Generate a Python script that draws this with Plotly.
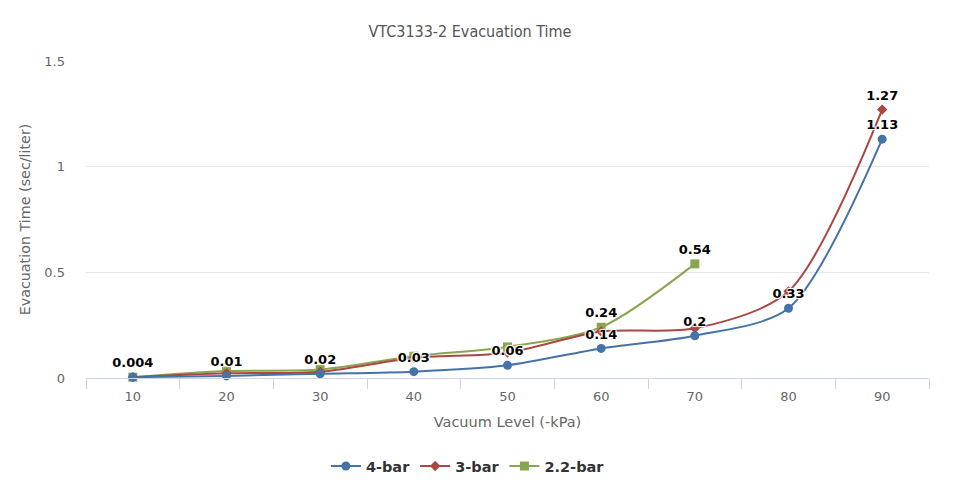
import plotly.graph_objects as go

categories = ["10", "20", "30", "40", "50", "60", "70", "80", "90"]
bar4 = [0.004, 0.01, 0.02, 0.03, 0.06, 0.14, 0.2, 0.33, 1.13]
bar3 = [0.004, 0.022, 0.03, 0.095, 0.12, 0.22, 0.235, 0.41, 1.27]
bar22 = [0.004, 0.033, 0.04, 0.103, 0.147, 0.24, 0.54, None, None]

# which values have visible labels
lab4 = ["0.004", "0.01", "0.02", "0.03", "0.06", "0.14", "0.2", "0.33", "1.13"]
lab3 = ["", "", "", "", "", "", "", "", "1.27"]
lab22 = ["", "", "", "", "", "0.24", "0.54", "", ""]

font = "DejaVu Sans"
lblfont = dict(family=font, size=13, color="#000000", weight="bold",
               shadow="1px 1px 1px white, -1px -1px 1px white, 1px -1px 1px white, -1px 1px 1px white")

fig = go.Figure()
fig.add_trace(go.Scatter(x=categories, y=bar22, name="2.2-bar", mode="lines+markers+text",
                         line=dict(color="#89A54E", width=2, shape="spline", smoothing=0.8),
                         marker=dict(symbol="square", size=9, color="#89A54E"),
                         text=lab22, textposition="top center", textfont=lblfont, cliponaxis=False,
                         connectgaps=False))
fig.add_trace(go.Scatter(x=categories, y=bar3, name="3-bar", mode="lines+markers+text",
                         line=dict(color="#AA4643", width=2, shape="spline", smoothing=0.8),
                         marker=dict(symbol="diamond", size=8, color="#AA4643"),
                         text=lab3, textposition="top center", textfont=lblfont, cliponaxis=False))
fig.add_trace(go.Scatter(x=categories, y=bar4, name="4-bar", mode="lines+markers+text",
                         line=dict(color="#4572A7", width=2, shape="spline", smoothing=0.8),
                         marker=dict(symbol="circle", size=9, color="#4572A7"),
                         text=lab4, textposition="top center", textfont=lblfont, cliponaxis=False))

fig.update_layout(
    width=977, height=501,
    margin=dict(l=86, r=48, t=61, b=123, autoexpand=False),
    paper_bgcolor="white", plot_bgcolor="white",
    title=dict(text="VTC3133-2 Evacuation Time", x=0.481, xanchor="center", y=0.937, yanchor="middle",
               font=dict(family="DejaVu Sans Condensed", size=16, color="#555555")),
    font=dict(family=font, color="#666666"),
    showlegend=True,
    legend=dict(orientation="h", x=0.453, xanchor="center", y=-0.278, yanchor="middle",
                traceorder="reversed", itemwidth=30,
                font=dict(family=font, size=14.5, color="#333333", weight="bold")),
    xaxis=dict(type="category", categoryorder="array", categoryarray=categories,
               range=[-0.5, 8.5], showgrid=False, showline=True, linecolor="#ccd6eb", linewidth=1,
               ticks="outside", tickson="boundaries", ticklen=10, tickcolor="#ccd6eb",
               ticklabelstandoff=6,
               tickfont=dict(family=font, size=13, color="#666666"),
               title=dict(text="Vacuum Level (-kPa)", font=dict(family=font, size=14.5, color="#666666"), standoff=14),
               zeroline=False),
    yaxis=dict(range=[0, 1.5], tickvals=[0, 0.5, 1, 1.5], ticktext=["0", "0.5", "1", "1.5"],
               showgrid=True, gridcolor="#e6e6e6", gridwidth=1, zeroline=False, showline=False,
               tickfont=dict(family=font, size=13, color="#666666"), ticklabelstandoff=20,
               title=dict(text="Evacuation Time (sec/liter)", font=dict(family=font, size=14.3, color="#666666"), standoff=10)),
)

fig.write_html("out.html")
